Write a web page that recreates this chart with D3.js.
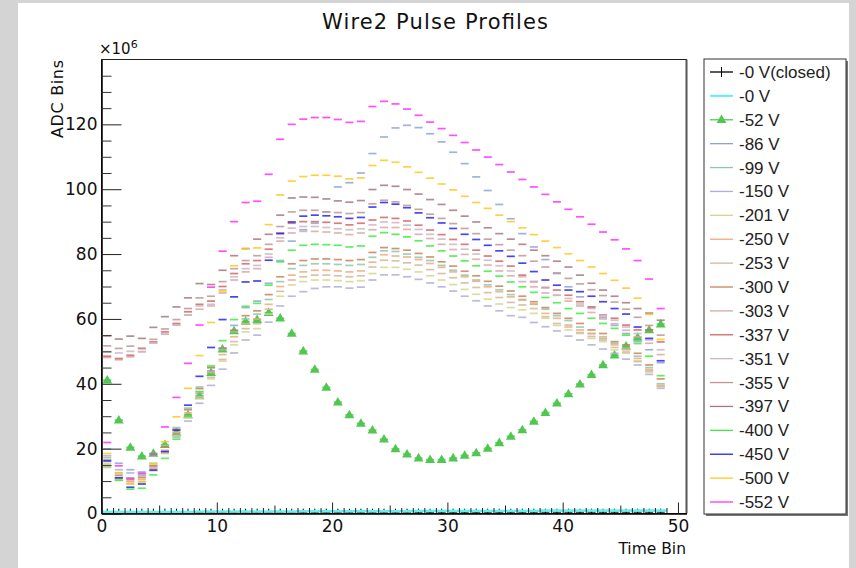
<!DOCTYPE html>
<html><head><meta charset="utf-8">
<script src="https://cdn.jsdelivr.net/npm/d3@7"></script>
<style>body{margin:0;background:#d4d4d4;}svg{display:block}</style>
</head><body>
<svg id="chart" width="856" height="568"></svg>
<script>
// ---------- data ----------
const timeBins = d3.range(49);
const seriesLabels = ["-0 V(closed)","-0 V","-52 V","-86 V","-99 V","-150 V","-201 V","-250 V","-253 V","-300 V","-303 V","-337 V","-351 V","-355 V","-397 V","-400 V","-450 V","-500 V","-552 V"];
const seriesColors = ["#000000","#5ef2f2","#50c850","#8ea4d8","#8cc8aa","#aeaed6","#d6d68e","#f0aa7a","#d4b69e","#c8825c","#d8a8a6","#d06666","#cbb7c6","#c09696","#a87880","#40ec40","#2424ee","#ffc820","#ff30ff"];
const xMajorTicks = [0,10,20,30,40,50];
const yMajorTicks = [0,20,40,60,80,100,120];

const vClosed = [0.4,0.4,0.4,0.4,0.4,0.4,0.4,0.4,0.4,0.4,0.4,0.4,0.4,0.4,0.4,0.4,0.4,0.4,0.4,0.4,0.4,0.4,0.4,0.4,0.4,0.4,0.4,0.4,0.4,0.4,0.4,0.4,0.4,0.4,0.4,0.4,0.4,0.4,0.4,0.4,0.4,0.4,0.4,0.4,0.4,0.4,0.4,0.4,0.4];
const v0 = [0.5,0.5,0.5,0.5,0.5,0.5,0.5,0.5,0.6,0.6,0.6,0.6,0.6,0.6,0.6,0.6,0.6,0.7,0.7,0.7,0.7,0.7,0.7,0.7,0.7,0.7,0.7,0.8,0.8,0.8,0.8,0.8,0.8,0.8,0.8,0.8,0.8,0.8,0.9,0.9,0.9,0.9,0.9,0.9,0.9,0.9,0.9,0.9,0.9];
const v52 = [41.1,28.8,20.4,17.7,18.5,21.2,25.0,30.4,36.3,43.4,50.7,56.3,59.2,59.8,61.9,60.2,55.5,50.1,44.4,38.9,34.3,30.4,27.8,25.7,22.9,19.9,18.3,17.1,16.6,16.6,17.1,17.9,18.7,20.1,21.8,23.8,25.8,28.4,31.1,34.0,36.9,39.9,42.8,45.8,48.8,51.6,54.3,56.6,58.4];
const v86 = [19.9,15.5,13.5,12.8,14.5,19.0,24.0,30.0,37.0,44.0,51.0,58.0,63.5,65.5,71.0,78.0,84.0,87.5,89.5,93.0,100.7,102.0,105.0,111.0,116.1,118.9,119.7,119.0,117.1,114.6,111.4,107.9,103.8,99.6,95.3,90.9,86.3,82.2,78.3,74.0,69.9,66.8,63.5,60.5,58.0,55.5,53.0,50.5,46.5];
const v99 = [17.2,12.5,11.0,11.8,15.5,21.0,26.5,32.5,39.0,45.0,50.5,56.0,60.0,61.5,66.0,71.5,75.5,76.5,77.0,77.0,76.8,76.5,76.8,79.0,81.0,80.8,80.0,79.0,78.0,76.5,75.0,73.5,72.0,70.5,69.0,67.5,66.0,64.5,63.0,61.0,59.5,57.5,55.5,54.0,52.5,51.0,48.5,45.0,40.0];
const v150 = [17.8,13.5,12.5,12.0,14.5,19.0,23.5,28.5,34.0,39.5,44.5,49.5,53.5,55.0,59.0,64.0,67.0,68.4,69.4,69.9,69.9,69.5,69.8,72.0,73.6,73.6,73.0,72.2,71.1,69.9,68.6,67.0,65.6,64.0,62.5,61.0,60.5,58.9,57.6,56.3,54.7,53.5,52.0,50.7,49.4,47.6,45.8,42.9,38.6];
const v201 = [15.5,11.2,10.0,10.8,13.8,18.8,24.0,29.5,35.5,41.5,47.0,52.0,56.0,57.0,61.5,67.0,70.5,71.5,72.0,72.0,71.8,71.5,71.8,74.0,75.9,75.9,75.3,74.5,73.3,72.0,70.6,69.1,67.6,66.1,64.6,63.5,62.8,61.7,60.2,58.0,56.6,55.5,54.0,53.0,50.4,49.4,46.8,43.6,39.0];
const v250 = [14.8,10.8,9.8,10.5,14.0,19.5,25.0,31.0,37.5,43.5,49.0,54.5,58.5,60.0,64.5,70.0,73.5,74.5,75.0,75.0,74.8,74.5,74.8,77.5,79.8,79.4,79.1,78.3,77.1,75.9,74.5,73.0,71.6,69.9,68.4,66.8,65.8,64.6,61.7,60.2,58.1,56.6,55.5,54.5,52.0,50.5,47.8,44.4,39.3];
const v253 = [14.2,10.2,9.2,9.8,13.2,18.5,24.0,29.8,36.0,42.0,47.5,53.0,57.0,58.5,63.0,68.5,72.0,73.0,73.5,73.5,73.3,73.0,73.3,76.0,78.1,77.9,77.3,76.6,75.2,74.0,72.7,71.1,69.7,68.1,66.6,65.1,64.3,63.2,60.7,58.6,57.5,55.8,54.6,53.5,51.2,49.8,47.0,44.0,39.5];
const v300 = [16.5,11.8,10.5,11.2,14.8,20.5,26.0,32.0,38.5,45.0,51.0,56.5,61.0,62.5,67.5,73.0,77.0,78.0,78.5,78.5,78.3,78.0,78.3,80.5,82.0,81.7,81.2,80.2,79.1,77.6,76.3,74.7,73.3,71.6,70.1,68.6,67.0,65.3,63.5,61.7,60.2,58.6,56.6,55.5,53.0,52.0,49.4,45.8,41.5];
const v303 = [48.1,47.4,48.3,49.9,52.6,55.3,58.1,61.2,63.0,64.0,68.0,72.0,74.5,75.5,79.0,84.0,86.5,87.0,87.0,86.8,86.5,86.0,86.5,87.5,88.2,88.2,87.6,86.1,84.8,83.0,81.4,79.9,78.4,76.6,74.8,73.3,71.5,69.9,68.0,67.3,65.5,64.0,62.0,60.0,58.5,56.5,54.5,52.5,49.0];
const v337 = [48.5,47.8,48.8,50.9,52.9,56.0,58.6,62.2,64.5,65.5,70.0,74.0,77.0,78.0,81.5,86.5,89.5,90.0,90.0,89.8,89.5,89.0,89.5,90.5,91.3,91.0,90.2,88.9,87.4,86.0,84.5,83.0,81.2,79.4,77.8,76.3,73.5,71.5,69.7,68.9,67.3,65.3,63.7,61.2,60.2,58.1,56.6,56.6,52.9];
const v351 = [49.9,49.5,50.0,49.9,52.6,55.3,58.1,61.2,64.0,64.5,69.0,73.0,75.5,76.5,80.0,85.0,88.0,88.5,88.5,88.2,87.8,87.5,87.8,89.0,89.9,89.7,88.9,87.6,86.1,84.6,83.0,81.5,80.0,78.1,76.4,74.8,73.0,71.5,69.5,67.3,66.3,64.6,63.2,61.0,59.6,57.5,55.5,53.5,50.5];
const v355 = [51.7,50.9,51.6,50.9,53.7,56.9,59.8,63.2,66.5,67.0,71.5,75.5,78.0,79.5,83.0,88.5,93.0,93.5,93.5,93.0,92.8,92.5,92.8,95.5,96.6,96.1,95.0,93.8,92.3,91.0,89.4,87.9,86.3,84.6,82.9,81.2,79.5,77.8,76.0,74.2,72.5,70.8,69.0,67.2,65.2,63.0,60.5,58.0,55.0];
const v397 = [54.8,53.8,54.7,54.0,57.4,60.7,63.7,66.5,70.9,70.6,75.0,79.5,81.7,84.6,86.1,92.0,97.3,97.6,97.5,97.0,96.4,96.0,96.5,99.9,101.2,100.9,99.9,98.5,96.8,95.3,93.5,91.7,89.9,88.1,86.3,84.6,83.0,81.2,79.5,77.8,76.0,73.5,71.0,68.9,67.0,65.0,63.2,61.8,59.6];
const v400 = [14.7,10.3,7.5,7.8,11.9,17.0,22.9,30.0,37.6,45.5,53.3,59.8,63.9,64.8,70.4,77.6,81.2,82.7,83.0,82.9,82.7,82.2,82.5,85.5,86.6,86.1,85.3,84.1,82.5,81.0,79.4,77.9,76.4,74.7,73.2,71.4,69.9,68.2,66.6,65.0,63.2,61.7,60.2,58.6,57.1,55.0,52.4,48.5,42.5];
const v450 = [16.2,11.0,8.1,9.1,13.4,19.1,25.7,33.4,42.3,51.2,59.8,66.8,71.4,71.7,78.1,86.3,89.9,91.7,92.0,91.8,91.5,91.0,91.3,94.5,95.9,95.4,94.3,92.7,91.2,89.6,87.9,86.1,84.5,82.7,81.0,79.3,77.2,74.6,72.0,70.4,68.9,68.4,67.0,65.3,63.2,61.5,57.5,54.0,47.1];
const v500 = [18.5,12.6,9.1,9.8,15.3,22.1,29.8,38.6,48.7,58.9,68.6,76.4,81.6,81.9,89.1,98.2,102.5,103.9,104.3,104.3,104.0,103.2,103.5,107.3,108.9,108.3,106.9,105.2,103.4,101.6,99.8,97.8,95.9,94.1,92.0,90.0,88.1,86.0,84.0,82.0,80.1,78.0,76.0,74.0,71.9,69.5,66.4,61.4,53.7];
const v552 = [21.9,14.7,10.8,12.4,18.3,26.7,35.8,46.3,58.1,69.8,80.9,90.0,95.9,96.3,104.6,115.4,120.0,121.6,122.1,122.1,121.5,120.6,120.9,125.5,127.1,126.3,124.7,122.8,120.7,118.7,116.6,114.4,112.1,109.9,107.6,105.3,103.0,100.7,98.4,96.1,93.8,91.5,89.2,86.8,84.4,81.6,78.0,72.3,63.2];

const seriesValues = [vClosed,v0,v52,v86,v99,v150,v201,v250,v253,v300,v303,v337,v351,v355,v397,v400,v450,v500,v552];

// ---------- drawing ----------
const svg = d3.select("#chart");
const W = 856, H = 568;
const plot = {left:101.5, right:686.5, top:59.5, bottom:513.5};

svg.append("rect").attr("x",18).attr("y",3).attr("width",831).attr("height",H-3).attr("fill","#ffffff");

const x = d3.scaleLinear().domain([0,50.74]).range([plot.left,plot.right]);
const y = d3.scaleLinear().domain([0,140]).range([plot.bottom,plot.top]);

// frame
svg.append("rect").attr("x",plot.left).attr("y",plot.top)
  .attr("width",plot.right-plot.left).attr("height",plot.bottom-plot.top)
  .attr("fill","none").attr("stroke","#222").attr("stroke-width",1);
svg.append("line").attr("x1",plot.right).attr("x2",plot.right).attr("y1",plot.top).attr("y2",plot.bottom)
  .attr("stroke","#555").attr("stroke-width",2);

const halfW = 0.35;
const gData = svg.append("g");
seriesValues.forEach((vals, s) => {
  const g = gData.append("g");
  const col = seriesColors[s];
  if (s === 1) {
    g.selectAll("line").data(timeBins).join("line")
      .attr("x1", i => x(i)).attr("x2", i => x(i+1))
      .attr("y1", i => y(vals[i])).attr("y2", i => y(vals[i]))
      .attr("stroke", col).attr("stroke-width", 2.5);
    return;
  }
  g.selectAll("line.h").data(timeBins).join("line").attr("class","h")
    .attr("x1", i => x(i+0.5-halfW)).attr("x2", i => x(i+0.5+halfW))
    .attr("y1", i => y(vals[i])).attr("y2", i => y(vals[i]))
    .attr("stroke", col).attr("stroke-width", s === 0 ? 1 : 1.7)
    .attr("stroke-opacity", s === 0 ? 1 : 0.85);
  if (s === 0) {
    g.selectAll("line.v").data(timeBins).join("line").attr("class","v")
      .attr("x1", i => x(i+0.5)).attr("x2", i => x(i+0.5))
      .attr("y1", i => y(vals[i])-3.5).attr("y2", i => y(vals[i])+2)
      .attr("stroke", col).attr("stroke-width", 1);
  }
  if (s === 2) {
    g.selectAll("path").data(timeBins).join("path")
      .attr("d", d3.symbol(d3.symbolTriangle).size(42)())
      .attr("transform", i => `translate(${x(i+0.5)},${y(vals[i])+0.5})`)
      .attr("fill", col);
  }
});

// axes
const font = "'Liberation Sans', Arial, sans-serif";
const axFont = "'DejaVu Sans', sans-serif";
const yAxis = d3.axisLeft(y).tickValues(yMajorTicks).tickSizeInner(-20).tickSizeOuter(0).tickPadding(4);
const gy = svg.append("g").attr("transform",`translate(${plot.left},0)`).call(yAxis);
gy.selectAll("text").attr("font-family",axFont).attr("font-size",17).attr("fill","#111");
gy.select(".domain").attr("stroke","#000").attr("stroke-width",1.5);
gy.selectAll(".tick line").attr("stroke","#222");
const yMinor = d3.axisLeft(y).tickValues(d3.range(0,141,5).filter(v => v%20 !== 0 && v < 140)).tickSizeInner(-10).tickSizeOuter(0).tickFormat("");
const gym = svg.append("g").attr("transform",`translate(${plot.left},0)`).call(yMinor);
gym.select(".domain").remove();
gym.selectAll(".tick line").attr("stroke","#333");

const xAxis = d3.axisBottom(x).tickValues(xMajorTicks).tickSizeInner(-11).tickSizeOuter(0).tickPadding(6);
const gx = svg.append("g").attr("transform",`translate(0,${plot.bottom})`).call(xAxis);
gx.selectAll("text").attr("font-family",axFont).attr("font-size",17).attr("fill","#111");
gx.select(".domain").attr("stroke","#000").attr("stroke-width",1.5);
gx.selectAll(".tick line").attr("stroke","#222");
const xMinor = d3.axisBottom(x).tickValues(d3.range(0,51,1).filter(v => v%10 !== 0)).tickSizeInner(-5.5).tickSizeOuter(0).tickFormat("");
const gxm = svg.append("g").attr("transform",`translate(0,${plot.bottom})`).call(xMinor);
gxm.select(".domain").remove();
gxm.selectAll(".tick line").attr("stroke","#222").attr("y2", d => d%5===0 ? -8 : -5.5);

// titles
svg.append("text").attr("x",435).attr("y",29).attr("text-anchor","middle")
  .attr("font-family",axFont).attr("font-size",21).attr("fill","#111")
  .attr("textLength",226).attr("lengthAdjust","spacing").text("Wire2 Pulse Profiles");
const exp = svg.append("text").attr("x",99).attr("y",54).attr("font-family",axFont).attr("font-size",15).attr("fill","#111");
exp.append("tspan").text("\u00d710");
exp.append("tspan").attr("dy",-6).attr("font-size",11).text("6");
svg.append("text").attr("transform","translate(63,60) rotate(-90)").attr("text-anchor","end")
  .attr("font-family",axFont).attr("font-size",16).attr("fill","#111")
  .attr("textLength",78).attr("lengthAdjust","spacing").text("ADC Bins");
svg.append("text").attr("x",686).attr("y",554).attr("text-anchor","end")
  .attr("font-family",axFont).attr("font-size",15.5).attr("fill","#111").text("Time Bin");

// legend
const lg = {x:704, y:59, w:142, h:455};
svg.append("rect").attr("x",lg.x+2).attr("y",lg.y+2).attr("width",lg.w).attr("height",lg.h).attr("fill","#777");
svg.append("rect").attr("x",lg.x).attr("y",lg.y).attr("width",lg.w).attr("height",lg.h).attr("fill","#fff").attr("stroke","#333").attr("stroke-width",1);
const ly = d3.scalePoint().domain(d3.range(seriesLabels.length)).range([72,502]);
const le = svg.append("g").selectAll("g").data(seriesLabels).join("g")
  .attr("transform",(d,i)=>`translate(0,${ly(i)})`);
le.append("line").attr("x1",710).attr("x2",733).attr("y1",0).attr("y2",0)
  .attr("stroke",(d,i)=>seriesColors[i]).attr("stroke-width",(d,i)=> i===1 ? 2 : 1.3);
le.filter((d,i)=>i===0).append("line").attr("x1",721.5).attr("x2",721.5).attr("y1",-5).attr("y2",5).attr("stroke","#000");
le.filter((d,i)=>i===2).append("path").attr("d",d3.symbol(d3.symbolTriangle).size(42)()).attr("transform","translate(721.5,0.5)").attr("fill",seriesColors[2]);
le.append("text").attr("x",739).attr("y",6).attr("font-family",font).attr("font-size",17).attr("fill","#222").text(d=>d);
</script>
</body></html>
